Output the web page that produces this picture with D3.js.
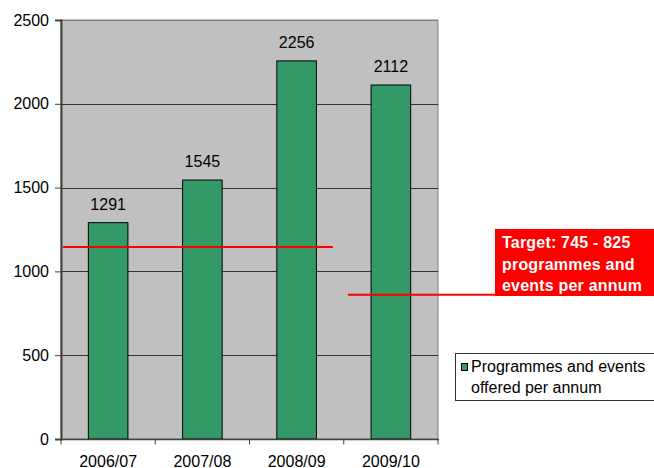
<!DOCTYPE html>
<html>
<head>
<meta charset="utf-8">
<script src="https://cdn.jsdelivr.net/npm/d3@7"></script>
<style>
  html, body { margin: 0; padding: 0; background: #fff; }
  text { font-family: "Liberation Sans", Arial, sans-serif; }
</style>
</head>
<body>
<div id="chart"></div>
<script>
const years = ['2006/07', '2007/08', '2008/09', '2009/10'];
const programmes = [1291, 1545, 2256, 2112];
const yTicks = [0, 500, 1000, 1500, 2000, 2500];
const legendLines = ['Programmes and events', 'offered per annum'];
const targetLines = ['Target: 745 - 825', 'programmes and', 'events per annum'];

const width = 654, height = 468;
const plot = { left: 61, right: 438, top: 20, bottom: 439 };

const svg = d3.select('#chart')
  .append('svg')
  .attr('width', width)
  .attr('height', height);

svg.append('rect').attr('width', width).attr('height', height).attr('fill', '#fff');

const x = d3.scaleBand()
  .domain(years)
  .range([plot.left, plot.right])
  .paddingInner(0.58)
  .paddingOuter(0.29);

const xCat = d3.scaleBand()
  .domain(years)
  .range([plot.left, plot.right]);

const y = d3.scaleLinear()
  .domain([0, 2500])
  .range([plot.bottom, plot.top]);

// plot area
svg.append('rect')
  .attr('x', plot.left)
  .attr('y', plot.top)
  .attr('width', plot.right - plot.left)
  .attr('height', plot.bottom - plot.top)
  .attr('fill', '#c0c0c0')
  .attr('stroke', '#808080')
  .attr('stroke-width', 1);

// gridlines
svg.selectAll('.grid')
  .data(yTicks.filter(d => d > 0))
  .enter()
  .append('line')
  .attr('x1', plot.left)
  .attr('x2', plot.right)
  .attr('y1', d => Math.round(y(d)) + 0.5)
  .attr('y2', d => Math.round(y(d)) + 0.5)
  .attr('stroke', d => d === 2500 ? '#808080' : '#333')
  .attr('stroke-width', 1);

// bars
svg.selectAll('.bar')
  .data(programmes)
  .enter()
  .append('rect')
  .attr('x', (d, i) => x(years[i]))
  .attr('y', d => y(d))
  .attr('width', x.bandwidth())
  .attr('height', d => plot.bottom - y(d))
  .attr('fill', '#339966')
  .attr('stroke', '#000')
  .attr('stroke-width', 1);

// value labels
svg.selectAll('.val')
  .data(programmes)
  .enter()
  .append('text')
  .attr('x', (d, i) => x(years[i]) + x.bandwidth() / 2)
  .attr('y', d => y(d) - 13)
  .attr('text-anchor', 'middle')
  .style('font-size', '16px')
  .attr('fill', '#000')
  .text(d => d);

// y axis
const yAxis = svg.append('g')
  .attr('transform', 'translate(' + plot.left + ',0)')
  .call(d3.axisLeft(y).tickValues(yTicks).tickFormat(d3.format('d')).tickSize(6).tickPadding(6));
yAxis.select('.domain').attr('stroke', '#404040').attr('stroke-width', 2);
yAxis.selectAll('.tick line').attr('stroke', '#404040');
yAxis.selectAll('.tick text')
  .style('font-size', '16px')
  .style('font-family', '"Liberation Sans", Arial, sans-serif')
  .attr('fill', '#000');

// x axis with ticks at category boundaries
const xAxis = svg.append('g')
  .attr('transform', 'translate(0,' + (plot.bottom + 0.5) + ')');
xAxis.append('line')
  .attr('x1', plot.left).attr('x2', plot.right + 1)
  .attr('stroke', '#404040').attr('stroke-width', 1.5);
xAxis.selectAll('.xt')
  .data(years.concat(['end']))
  .enter()
  .append('line')
  .attr('x1', (d, i) => i < years.length ? xCat(d) : plot.right)
  .attr('x2', (d, i) => i < years.length ? xCat(d) : plot.right)
  .attr('y1', 0).attr('y2', 5)
  .attr('stroke', '#404040');
xAxis.selectAll('.xl')
  .data(years)
  .enter()
  .append('text')
  .attr('x', d => xCat(d) + xCat.bandwidth() / 2)
  .attr('y', 27)
  .attr('text-anchor', 'middle')
  .style('font-size', '16px')
  .attr('fill', '#000')
  .text(d => d);

// target annotation lines
svg.append('line')
  .attr('x1', 63).attr('x2', 333)
  .attr('y1', y(1146)).attr('y2', y(1146))
  .attr('stroke', '#ff0000').attr('stroke-width', 2);
svg.append('line')
  .attr('x1', 348).attr('x2', 511)
  .attr('y1', y(861)).attr('y2', y(861))
  .attr('stroke', '#ff0000').attr('stroke-width', 2);

// target box
svg.append('rect')
  .attr('x', 495).attr('y', 229)
  .attr('width', 160).attr('height', 67)
  .attr('fill', '#ff0000');
svg.append('g')
  .selectAll('text')
  .data(targetLines)
  .enter()
  .append('text')
  .attr('x', 502)
  .attr('y', (d, i) => 248 + i * 21.5)
  .style('font-size', '16px')
  .style('font-weight', 'bold')
  .style('letter-spacing', '0.2px')
  .attr('fill', '#fff')
  .text(d => d);

// legend
svg.append('rect')
  .attr('x', 455.5).attr('y', 353.5)
  .attr('width', 220).attr('height', 47)
  .attr('fill', '#fff')
  .attr('stroke', '#333');
svg.append('rect')
  .attr('x', 461.5).attr('y', 363.5)
  .attr('width', 6).attr('height', 7)
  .attr('fill', '#339966')
  .attr('stroke', '#000');
svg.append('g')
  .selectAll('text')
  .data(legendLines)
  .enter()
  .append('text')
  .attr('x', 471)
  .attr('y', (d, i) => 372 + i * 21)
  .style('font-size', '16px')
  .attr('fill', '#000')
  .text(d => d);
</script>
</body>
</html>
